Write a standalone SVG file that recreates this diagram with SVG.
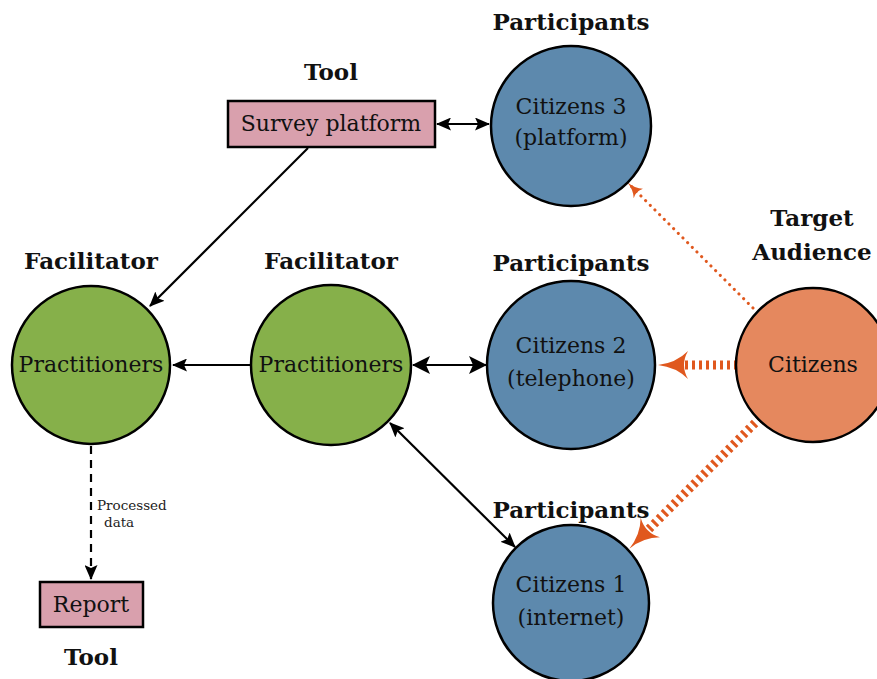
<svg xmlns="http://www.w3.org/2000/svg" width="877" height="679" viewBox="0 0 877 679">
  <style>
    .lbl { font-family: "DejaVu Serif", "Liberation Serif", serif; font-weight: bold; font-size: 23px; fill: #111; text-anchor: middle; }
    .txt { font-family: "DejaVu Serif", "Liberation Serif", serif; font-size: 22px; fill: #111; text-anchor: middle; }
    .small { font-family: "DejaVu Serif", "Liberation Serif", serif; font-size: 13.5px; fill: #222; }
    .blue { fill: #5d89ad; stroke: #000; stroke-width: 2.5; }
    .green { fill: #86b04a; stroke: #000; stroke-width: 2.5; }
    .orange { fill: #e5885e; stroke: #000; stroke-width: 2.5; }
    .box { fill: #d9a0ad; stroke: #000; stroke-width: 2.5; }
    .edge { fill: none; stroke: #000; stroke-width: 2.2; }
    .thick { fill: none; stroke: #e0581e; stroke-width: 9; stroke-dasharray: 3 4; }
  </style>
  <defs>
    <marker id="ah" markerUnits="userSpaceOnUse" viewBox="0 0 15 13" refX="14" refY="6.5" markerWidth="15" markerHeight="13" orient="auto-start-reverse">
      <path d="M0,0 L15,6.5 L0,13 L3,6.5 Z" fill="#000"/>
    </marker>
    <marker id="ahBig" markerUnits="userSpaceOnUse" viewBox="0 0 18 18" refX="17" refY="9" markerWidth="18" markerHeight="18" orient="auto-start-reverse">
      <path d="M0,0 L18,9 L0,18 L4,9 Z" fill="#000"/>
    </marker>
    <marker id="stealth" markerUnits="userSpaceOnUse" viewBox="0 0 30 28" refX="6" refY="14" markerWidth="30" markerHeight="28" orient="auto">
      <path d="M0,0 Q12,12 30,14 Q12,16 0,28 Q8,14 0,0 Z" fill="#e0581e"/>
    </marker>
    <marker id="stealthSm" markerUnits="userSpaceOnUse" viewBox="0 0 16 14" refX="15" refY="7" markerWidth="16" markerHeight="14" orient="auto">
      <path d="M0,0 Q6,6 16,7 Q6,8 0,14 Q4,7 0,0 Z" fill="#e0581e"/>
    </marker>
  </defs>

  <!-- connectors -->
  <g id="connectors">
    <line class="edge" x1="437" y1="124" x2="489" y2="124" marker-start="url(#ah)" marker-end="url(#ah)"/>
    <line class="edge" x1="308" y1="148" x2="150" y2="306" marker-end="url(#ah)"/>
    <line class="edge" x1="251" y1="365" x2="173" y2="365" marker-end="url(#ah)"/>
    <line class="edge" x1="413" y1="365" x2="486" y2="365" stroke-width="4.5" marker-start="url(#ahBig)" marker-end="url(#ahBig)"/>
    <line class="edge" x1="390" y1="423" x2="515" y2="547" marker-start="url(#ah)" marker-end="url(#ah)"/>
    <line class="edge" x1="91" y1="446" x2="91" y2="579" stroke-dasharray="8 6" stroke-width="3" marker-end="url(#ah)"/>
    <line x1="753" y1="308" x2="628" y2="183" stroke="#e0581e" stroke-width="3" stroke-linecap="round" stroke-dasharray="0.1 6.5" marker-end="url(#stealthSm)"/>
    <line class="thick" x1="737" y1="365" x2="682" y2="365" marker-end="url(#stealth)"/>
    <line class="thick" x1="760" y1="418" x2="646.3" y2="531.7" marker-end="url(#stealth)"/>
    <text class="small" x="97" y="510">Processed</text>
    <text class="small" x="104" y="527">data</text>
  </g>

  <!-- nodes -->
  <g id="survey">
    <rect class="box" x="228" y="101" width="207" height="46"/>
    <text class="txt" x="331" y="131">Survey platform</text>
  </g>
  <g id="report">
    <rect class="box" x="40" y="582" width="103" height="45"/>
    <text class="txt" x="91" y="612">Report</text>
  </g>
  <g id="citizens3">
    <circle class="blue" cx="571" cy="126" r="80"/>
    <text class="txt" x="571" y="114">Citizens 3</text>
    <text class="txt" x="571" y="145">(platform)</text>
  </g>
  <g id="citizens2">
    <circle class="blue" cx="571" cy="365" r="84"/>
    <text class="txt" x="571" y="353">Citizens 2</text>
    <text class="txt" x="571" y="386">(telephone)</text>
  </g>
  <g id="citizens1">
    <circle class="blue" cx="571" cy="603" r="78"/>
    <text class="txt" x="571" y="592">Citizens 1</text>
    <text class="txt" x="571" y="625">(internet)</text>
  </g>
  <g id="practitionersLeft">
    <circle class="green" cx="91" cy="365" r="79"/>
    <text class="txt" x="91" y="372">Practitioners</text>
  </g>
  <g id="practitionersMid">
    <circle class="green" cx="331" cy="365" r="80"/>
    <text class="txt" x="331" y="372">Practitioners</text>
  </g>
  <g id="citizensTarget">
    <circle class="orange" cx="813" cy="365" r="77"/>
    <text class="txt" x="813" y="372">Citizens</text>
  </g>

  <!-- role labels -->
  <g id="labels">
    <text class="lbl" x="571" y="30">Participants</text>
    <text class="lbl" x="331" y="80">Tool</text>
    <text class="lbl" x="812" y="226">Target</text>
    <text class="lbl" x="812" y="260">Audience</text>
    <text class="lbl" x="91" y="269">Facilitator</text>
    <text class="lbl" x="331" y="269">Facilitator</text>
    <text class="lbl" x="571" y="271">Participants</text>
    <text class="lbl" x="571" y="518">Participants</text>
    <text class="lbl" x="91" y="665">Tool</text>
  </g>
</svg>
